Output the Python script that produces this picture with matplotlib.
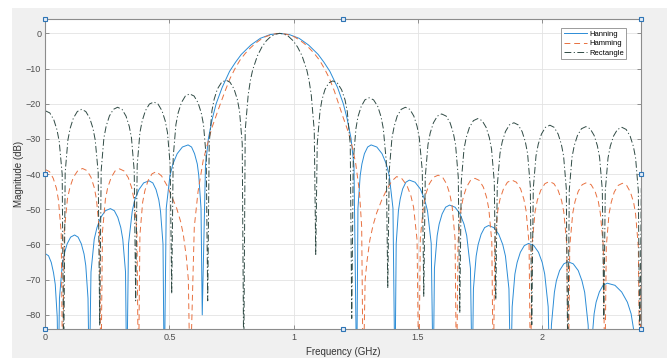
import matplotlib
matplotlib.use("Agg")
import matplotlib.pyplot as plt
from matplotlib.patches import Rectangle

# values (frequency in GHz, magnitude in dB)
# one line per lobe, nulls that fall below the axis are given as -100
hanning_f = [0.000, 0.013, 0.024, 0.033, 0.040, 0.048, 0.052,
             0.057, 0.068, 0.076, 0.088, 0.102, 0.118, 0.132, 0.145, 0.156, 0.163, 0.172, 0.177,
             0.184, 0.197, 0.208, 0.223, 0.242, 0.262, 0.278, 0.292, 0.304, 0.312, 0.323, 0.328,
             0.335, 0.350, 0.360, 0.377, 0.396, 0.418, 0.433, 0.446, 0.457, 0.464, 0.474, 0.479,
             0.487, 0.502, 0.514, 0.531, 0.552, 0.575, 0.589, 0.601, 0.612, 0.618, 0.627, 0.632,
             0.645, 0.657, 0.673, 0.688, 0.712, 0.742, 0.766, 0.789, 0.828, 0.866, 0.905,
             0.944,
             0.983, 1.022, 1.060, 1.099, 1.122, 1.146, 1.177, 1.200, 1.215, 1.231, 1.243, 1.254,
             1.259, 1.268, 1.275, 1.285, 1.298, 1.312, 1.335, 1.356, 1.373, 1.385, 1.400, 1.408,
             1.413, 1.422, 1.429, 1.439, 1.452, 1.466, 1.489, 1.510, 1.527, 1.539, 1.554, 1.562,
             1.567, 1.578, 1.586, 1.598, 1.612, 1.628, 1.650, 1.670, 1.686, 1.697, 1.712, 1.719,
             1.724, 1.735, 1.743, 1.755, 1.769, 1.785, 1.806, 1.826, 1.842, 1.853, 1.867, 1.874,
             1.880, 1.891, 1.900, 1.913, 1.929, 1.946, 1.967, 1.986, 2.001, 2.011, 2.025, 2.032,
             2.038, 2.050, 2.058, 2.071, 2.088, 2.105, 2.126, 2.146, 2.161, 2.172, 2.186, 2.193,
             2.199, 2.210, 2.218, 2.231, 2.246, 2.263, 2.294, 2.321, 2.344, 2.359, 2.380, 2.390,
             2.400]
hanning_db = [-62.6, -63.2, -65.1, -68.0, -71.3, -80.6, -100,
              -75.3, -66.0, -62.7, -59.8, -57.9, -57.3, -57.9, -59.8, -62.7, -66.0, -75.3, -100,
              -67.8, -58.5, -55.2, -52.3, -50.4, -49.8, -50.4, -52.3, -55.2, -58.5, -67.8, -100,
              -59.9, -50.6, -47.3, -44.4, -42.5, -41.9, -42.5, -44.4, -47.3, -50.6, -59.9, -100,
              -49.7, -40.4, -37.1, -34.2, -32.3, -31.7, -32.3, -34.2, -37.1, -40.4, -49.7, -80,
              -37.6, -29.8, -24.1, -20.0, -15.4, -10.8, -8.2, -6.0, -3.3, -1.4, -0.35,
              0.0,
              -0.35, -1.4, -3.3, -6.0, -8.2, -10.8, -15.4, -20.0, -24.1, -29.8, -37.6, -100,
              -49.7, -40.4, -37.1, -34.2, -32.3, -31.7, -32.3, -34.2, -37.1, -40.4, -49.7, -100,
              -59.7, -50.4, -47.1, -44.2, -42.3, -41.7, -42.3, -44.2, -47.1, -50.4, -59.7, -100,
              -66.8, -57.5, -54.2, -51.3, -49.4, -48.8, -49.4, -51.3, -54.2, -57.5, -66.8, -100,
              -72.6, -63.3, -60.0, -57.1, -55.2, -54.6, -55.2, -57.1, -60.0, -63.3, -72.6, -100,
              -77.7, -68.4, -65.1, -62.2, -60.3, -59.7, -60.3, -62.2, -65.1, -68.4, -77.7, -100,
              -82.9, -73.6, -70.3, -67.4, -65.5, -64.9, -65.5, -67.4, -70.3, -73.6, -82.9, -100,
              -89.0, -79.7, -76.4, -73.5, -71.6, -71.0, -71.6, -73.5, -76.4, -79.7, -89.0, -100,
              -92]

hamming_f = [0.000, 0.017, 0.032, 0.045, 0.053, 0.064, 0.070,
             0.076, 0.089, 0.099, 0.113, 0.131, 0.150, 0.168, 0.184, 0.197, 0.206, 0.218, 0.224,
             0.230, 0.242, 0.251, 0.265, 0.281, 0.299, 0.317, 0.334, 0.348, 0.357, 0.369, 0.375,
             0.381, 0.392, 0.401, 0.414, 0.430, 0.447, 0.468, 0.489, 0.510, 0.529, 0.545, 0.556,
             0.568, 0.576, 0.583,
             0.600, 0.615, 0.636, 0.670, 0.703, 0.724, 0.744, 0.764, 0.784, 0.805, 0.825, 0.845,
             0.864, 0.885, 0.905, 0.925, 0.944, 0.963, 0.983, 1.003, 1.024, 1.043, 1.063, 1.083,
             1.104, 1.124, 1.144, 1.164, 1.182, 1.200, 1.220, 1.237, 1.250, 1.265, 1.274, 1.280,
             1.288, 1.295, 1.307, 1.320, 1.334, 1.354, 1.374, 1.395, 1.415, 1.436, 1.456, 1.472,
             1.483, 1.497, 1.504,
             1.510, 1.523, 1.532, 1.546, 1.563, 1.582, 1.600, 1.616, 1.629, 1.638, 1.650, 1.656,
             1.662, 1.674, 1.683, 1.696, 1.712, 1.730, 1.748, 1.764, 1.777, 1.786, 1.798, 1.804,
             1.810, 1.822, 1.831, 1.845, 1.861, 1.879, 1.897, 1.914, 1.927, 1.936, 1.948, 1.954,
             1.960, 1.972, 1.981, 1.995, 2.012, 2.030, 2.048, 2.065, 2.079, 2.088, 2.100, 2.106,
             2.112, 2.124, 2.133, 2.146, 2.162, 2.180, 2.198, 2.214, 2.227, 2.235, 2.247, 2.253,
             2.259, 2.270, 2.279, 2.291, 2.307, 2.324, 2.341, 2.356, 2.369, 2.377, 2.388, 2.394,
             2.400]
hamming_db = [-38.7, -39.3, -41.2, -44.1, -47.4, -56.7, -100,
              -56.4, -47.1, -43.8, -40.9, -39.0, -38.4, -39.0, -40.9, -43.8, -47.1, -56.4, -100,
              -56.5, -47.2, -43.9, -41.0, -39.1, -38.5, -39.1, -41.0, -43.9, -47.2, -56.5, -100,
              -57.3, -48.0, -44.7, -41.8, -39.9, -39.3, -40.5, -43.1, -46.5, -49.7, -53.5, -57.3,
              -63.6, -70.0, -100,
              -55.0, -45.0, -36.0, -27.0, -20.4, -16.4, -12.8, -10.0, -7.6, -5.7, -4.2, -2.9,
              -1.9, -1.0, -0.5, -0.13, 0.0, -0.13, -0.5, -1.0, -1.9, -2.9, -4.2, -5.7,
              -7.6, -10.0, -12.8, -16.4, -20.2, -24.0, -28.0, -32.5, -37.0, -45.0, -55.0, -100,
              -70.0, -65.0, -58.7, -54.5, -51.1, -47.5, -44.5, -42.0, -40.7, -41.3, -43.2, -46.1,
              -49.4, -58.7, -100,
              -58.3, -49.0, -45.7, -42.8, -40.9, -40.3, -40.9, -42.8, -45.7, -49.0, -58.3, -100,
              -59.2, -49.9, -46.6, -43.7, -41.8, -41.2, -41.8, -43.7, -46.6, -49.9, -59.2, -100,
              -59.7, -50.4, -47.1, -44.2, -42.3, -41.7, -42.3, -44.2, -47.1, -50.4, -59.7, -100,
              -60.1, -50.8, -47.5, -44.6, -42.7, -42.1, -42.7, -44.6, -47.5, -50.8, -60.1, -100,
              -60.4, -51.1, -47.8, -44.9, -43.0, -42.4, -43.0, -44.9, -47.8, -51.1, -60.4, -100,
              -60.6, -51.3, -48.0, -45.1, -43.2, -42.6, -43.2, -45.1, -48.0, -51.3, -60.6, -100,
              -65]

rect_f = [0.000, 0.018, 0.034, 0.047, 0.056, 0.068, 0.074,
          0.080, 0.091, 0.100, 0.113, 0.129, 0.146, 0.163, 0.179, 0.192, 0.201, 0.213, 0.219,
          0.225, 0.236, 0.245, 0.258, 0.274, 0.291, 0.309, 0.325, 0.338, 0.347, 0.358, 0.364,
          0.370, 0.381, 0.390, 0.403, 0.419, 0.437, 0.454, 0.470, 0.483, 0.492, 0.503, 0.509,
          0.515, 0.526, 0.535, 0.548, 0.564, 0.581, 0.599, 0.615, 0.628, 0.637, 0.648, 0.654,
          0.660, 0.671, 0.680, 0.693, 0.710, 0.728, 0.744, 0.760, 0.773, 0.782, 0.793, 0.799,
          0.805, 0.817, 0.826, 0.835, 0.854, 0.872, 0.890, 0.908, 0.926, 0.944,
          0.962, 0.980, 0.998, 1.016, 1.034, 1.053, 1.062, 1.071, 1.083, 1.089,
          1.095, 1.106, 1.114, 1.126, 1.141, 1.158, 1.176, 1.193, 1.207, 1.216, 1.228, 1.234,
          1.240, 1.251, 1.259, 1.272, 1.287, 1.304, 1.322, 1.339, 1.352, 1.361, 1.373, 1.379,
          1.385, 1.396, 1.405, 1.417, 1.433, 1.450, 1.468, 1.484, 1.497, 1.506, 1.518, 1.524,
          1.530, 1.541, 1.550, 1.563, 1.579, 1.596, 1.614, 1.630, 1.643, 1.652, 1.663, 1.669,
          1.675, 1.686, 1.695, 1.708, 1.724, 1.742, 1.759, 1.775, 1.788, 1.797, 1.808, 1.814,
          1.820, 1.831, 1.840, 1.853, 1.869, 1.887, 1.904, 1.920, 1.933, 1.942, 1.953, 1.959,
          1.965, 1.976, 1.985, 1.998, 2.014, 2.032, 2.049, 2.065, 2.078, 2.087, 2.098, 2.104,
          2.110, 2.121, 2.130, 2.143, 2.159, 2.177, 2.194, 2.210, 2.223, 2.232, 2.243, 2.249,
          2.255, 2.266, 2.275, 2.288, 2.304, 2.322, 2.339, 2.355, 2.368, 2.377, 2.388, 2.394,
          2.400]
rect_db = [-22.0, -22.6, -24.5, -27.4, -30.7, -40.0, -95,
           -39.6, -30.3, -27.0, -24.1, -22.2, -21.6, -22.2, -24.1, -27.0, -30.3, -39.6, -83,
           -39.0, -29.7, -26.4, -23.5, -21.6, -21.0, -21.6, -23.5, -26.4, -29.7, -39.0, -76,
           -37.5, -28.2, -24.9, -22.0, -20.1, -19.5, -20.1, -22.0, -24.9, -28.2, -37.5, -74,
           -35.2, -25.9, -22.6, -19.7, -17.8, -17.2, -17.8, -19.7, -22.6, -25.9, -35.2, -76,
           -31.3, -22.0, -18.7, -15.8, -13.9, -13.3, -13.9, -15.8, -18.7, -22.0, -31.3, -95,
           -27.6, -17.5, -13.3, -10.4, -6.4, -3.9, -2.1, -0.9, -0.22, 0.0,
           -0.22, -0.9, -2.1, -3.9, -6.4, -10.4, -13.3, -17.5, -27.6, -62.8,
           -31.5, -22.2, -18.9, -16.0, -14.1, -13.5, -14.1, -16.0, -18.9, -22.2, -31.5, -81,
           -36.3, -27.0, -23.7, -20.8, -18.9, -18.3, -18.9, -20.8, -23.7, -27.0, -36.3, -72.4,
           -39.0, -29.7, -26.4, -23.5, -21.6, -21.0, -21.6, -23.5, -26.4, -29.7, -39.0, -74.7,
           -40.9, -31.6, -28.3, -25.4, -23.5, -22.9, -23.5, -25.4, -28.3, -31.6, -40.9, -79.5,
           -42.2, -32.9, -29.6, -26.7, -24.8, -24.2, -24.8, -26.7, -29.6, -32.9, -42.2, -75.7,
           -43.4, -34.1, -30.8, -27.9, -26.0, -25.4, -26.0, -27.9, -30.8, -34.1, -43.4, -82.8,
           -44.1, -34.8, -31.5, -28.6, -26.7, -26.1, -26.7, -28.6, -31.5, -34.8, -44.1, -95,
           -44.5, -35.2, -31.9, -29.0, -27.1, -26.5, -27.1, -29.0, -31.9, -35.2, -44.5, -81,
           -44.7, -35.4, -32.1, -29.2, -27.3, -26.7, -27.3, -29.2, -32.1, -35.4, -44.7, -90,
           -44]

x_ticks = [0, 0.5, 1, 1.5, 2]
x_tick_labels = ["0", "0.5", "1", "1.5", "2"]
y_ticks = [0, -10, -20, -30, -40, -50, -60, -70, -80]

plt.rcParams['font.family'] = ['Liberation Sans', 'DejaVu Sans']

fig = plt.figure(figsize=(6.67, 3.58), dpi=100, facecolor='white')
# grey figure area of the MATLAB window
fig.patches.append(Rectangle((12 / 667, 0), 1, 1 - 8 / 358, transform=fig.transFigure,
                             facecolor='#f0f0f0', edgecolor='none', zorder=-10))
ax = fig.add_axes([45.3 / 667, 1 - 329.3 / 358, 596 / 667, 310 / 358])
ax.set_facecolor('white')

ax.plot(hanning_f, hanning_db, color='#2b8cd6', lw=0.7, label='Hanning')
ax.plot(hamming_f, hamming_db, color='#e8703f', lw=0.7, ls=(0, (6, 4)), label='Hamming')
ax.plot(rect_f, rect_db, color='#2f4a44', lw=0.7, ls=(0, (7, 2.5, 1.2, 2.5)), label='Rectangle')

ax.set_xlim(0, 2.4)
ax.set_ylim(-84.1, 4)
ax.set_xticks(x_ticks)
ax.set_xticklabels(x_tick_labels)
ax.set_yticks(y_ticks)
ax.grid(True, color='#e3e3e3', lw=0.6)
ax.set_axisbelow(True)
ax.tick_params(direction='in', length=3, width=0.6, colors='#808080', labelcolor='#4d4d4d',
               labelsize=6.5, top=True, right=True, pad=3)
for s in ax.spines.values():
    s.set_color('#8c8c8c')
    s.set_linewidth(0.8)

ax.set_xlabel('Frequency (GHz)', fontsize=7, color='#333333', labelpad=3)
ax.set_ylabel('Magnitude (dB)', fontsize=7, color='#333333')
ax.yaxis.set_label_coords(-0.036, 0.5)

leg = ax.legend(loc='upper right', bbox_to_anchor=(0.9815, 0.984), fontsize=5.5,
                handlelength=3.0, handletextpad=0.3, borderpad=0.35, labelspacing=0.25,
                fancybox=False, framealpha=1, edgecolor='#8c8c8c')
leg.get_frame().set_linewidth(0.6)

# selection handles of the MATLAB editor
hx = [0, 0.5, 1, 0, 1, 0, 0.5, 1]
hy = [1, 1, 1, 0.5, 0.5, 0, 0, 0]
ax.plot(hx, hy, 's', transform=ax.transAxes, clip_on=False, ms=3.5,
        mfc='#e4ecf6', mec='#2e75b6', mew=0.8, zorder=10)

fig.savefig('out.png', dpi=100, facecolor=fig.get_facecolor())
